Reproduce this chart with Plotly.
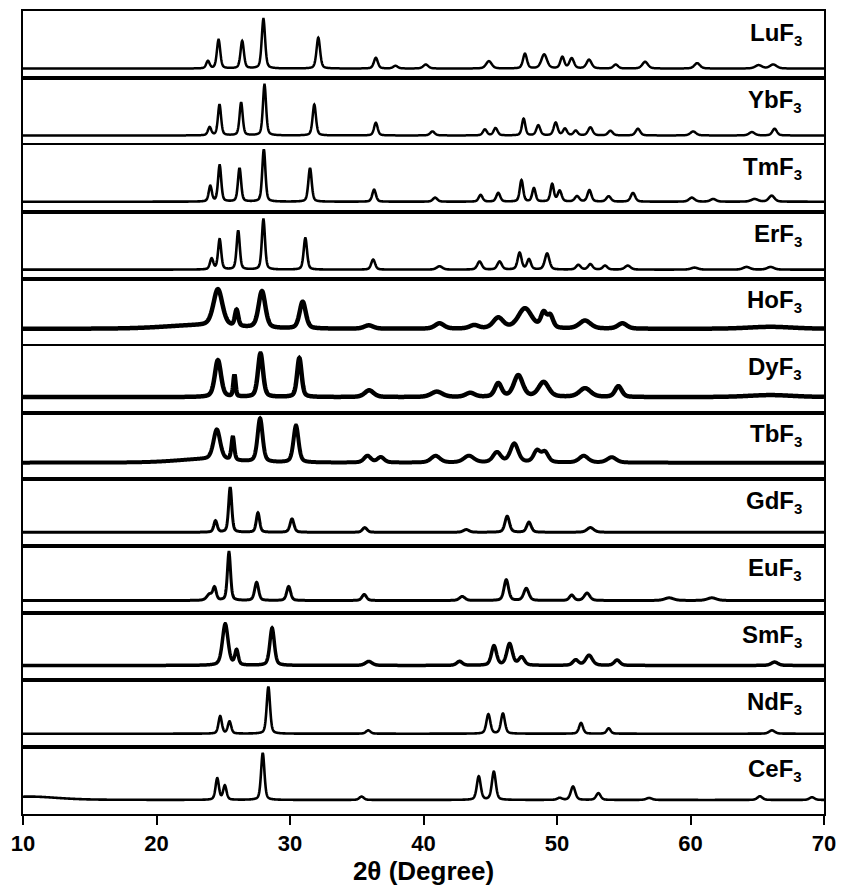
import numpy as np
import plotly.graph_objects as go
from plotly.subplots import make_subplots

# sample names, top to bottom
SAMPLES = ["Lu", "Yb", "Tm", "Er", "Ho", "Dy", "Tb", "Gd", "Eu", "Sm", "Nd", "Ce"]

# baseline level of each pattern (fraction of its panel height)
BASELINES = [0.14, 0.14, 0.15, 0.135, 0.25, 0.23, 0.25, 0.21, 0.19, 0.22, 0.20, 0.21]

# peaks: (2theta, height above baseline, fwhm)
LUF3_PEAKS = [(23.85, .11, .3), (24.65, .43, .3), (26.42, .41, .3), (28.01, .74, .3),
              (32.12, .46, .32), (36.43, .16, .35), (37.9, .04, .4), (40.17, .06, .45),
              (44.9, .11, .5), (47.6, .22, .35), (49.04, .21, .5), (50.4, .17, .35),
              (51.1, .15, .4), (52.4, .13, .45), (54.4, .06, .4), (56.6, .10, .5),
              (60.5, .08, .5), (65.1, .05, .6), (66.2, .06, .6)]
YBF3_PEAKS = [(23.98, .12, .3), (24.72, .46, .28), (26.34, .49, .28), (28.09, .76, .28),
              (31.82, .46, .3), (36.43, .19, .32), (40.67, .06, .4), (44.6, .09, .35),
              (45.4, .11, .35), (47.5, .25, .3), (48.6, .15, .35), (49.9, .19, .35),
              (50.6, .10, .35), (51.4, .07, .35), (52.5, .12, .4), (54.0, .07, .4),
              (56.06, .10, .4), (60.2, .06, .5), (64.6, .05, .5), (66.3, .10, .4)]
TMF3_PEAKS = [(24.03, .23, .28), (24.73, .54, .28), (26.22, .50, .28), (28.04, .78, .28),
              (31.5, .50, .3), (36.3, .18, .32), (40.87, .06, .4), (44.28, .10, .35),
              (45.6, .13, .35), (47.34, .32, .3), (48.27, .20, .3), (49.64, .26, .3),
              (50.2, .16, .35), (51.5, .08, .4), (52.43, .17, .35), (53.87, .08, .4),
              (55.69, .13, .4), (60.1, .06, .5), (61.7, .04, .5), (64.8, .04, .6),
              (66.08, .09, .5)]
ERF3_PEAKS = [(24.13, .16, .3), (24.73, .45, .28), (26.12, .58, .28), (28.01, .75, .28),
              (31.15, .47, .3), (36.23, .15, .35), (41.2, .05, .5), (44.2, .12, .4),
              (45.7, .12, .4), (47.2, .25, .35), (47.9, .15, .35), (49.26, .24, .4),
              (51.6, .07, .4), (52.5, .08, .4), (53.6, .06, .4), (55.3, .06, .5),
              (60.3, .03, .6), (64.2, .04, .6), (66.0, .04, .6)]
HOF3_PEAKS = [(23.0, .05, 6.0), (24.6, .55, .8), (26.0, .24, .3), (27.9, .55, .6),
              (30.95, .40, .55), (35.9, .05, .8), (41.2, .08, .8), (43.8, .05, .8),
              (45.6, .16, .9), (47.6, .30, 1.2), (49.0, .22, .5), (49.5, .18, .5),
              (52.1, .12, 1.0), (54.9, .08, .8), (66.0, .03, 4.0)]
DYF3_PEAKS = [(24.6, .55, .55), (25.84, .32, .2), (27.79, .65, .45), (30.7, .58, .4),
              (35.93, .10, .8), (41.0, .08, 1.0), (43.5, .06, .8), (45.6, .20, .6),
              (47.1, .32, .8), (49.0, .22, .9), (52.1, .13, 1.0), (54.6, .16, .6),
              (66.0, .03, 4.0)]
TBF3_PEAKS = [(23.5, .05, 5.0), (24.52, .45, .6), (25.72, .35, .25), (27.76, .65, .45),
              (30.45, .55, .45), (35.8, .10, .6), (36.8, .08, .6), (40.9, .10, .8),
              (43.4, .10, .9), (45.5, .15, .7), (46.8, .28, .7), (48.5, .17, .6),
              (49.1, .15, .6), (52.0, .10, .8), (54.1, .08, .8)]
GDF3_PEAKS = [(24.42, .17, .3), (25.52, .67, .28), (27.6, .29, .3), (30.15, .20, .35),
              (35.6, .07, .4), (43.2, .04, .5), (46.27, .24, .4), (47.9, .15, .4),
              (52.5, .07, .6)]
EUF3_PEAKS = [(23.98, .09, .5), (24.35, .18, .3), (25.43, .72, .28), (27.5, .27, .35),
              (29.9, .21, .35), (35.56, .09, .4), (42.9, .06, .5), (46.2, .31, .4),
              (47.7, .18, .45), (51.1, .08, .4), (52.25, .11, .5), (58.4, .04, .8),
              (61.6, .04, .8)]
SMF3_PEAKS = [(25.15, .62, .5), (26.0, .22, .3), (28.66, .56, .4), (35.9, .06, .6),
              (42.7, .06, .5), (45.28, .29, .45), (46.45, .32, .5), (47.35, .12, .5),
              (51.4, .08, .5), (52.4, .15, .6), (54.5, .08, .5), (66.3, .05, .6)]
NDF3_PEAKS = [(24.77, .26, .3), (25.47, .18, .3), (28.38, .70, .3), (35.86, .05, .4),
              (44.86, .29, .35), (45.95, .30, .35), (51.8, .16, .35), (53.87, .08, .35),
              (66.1, .05, .5)]
CEF3_PEAKS = [(10.5, .05, 5.0), (24.55, .32, .3), (25.12, .21, .3), (27.96, .70, .3),
              (35.36, .05, .4), (44.14, .35, .35), (45.27, .42, .35), (50.2, .03, .4),
              (51.2, .20, .4), (53.1, .10, .4), (56.9, .03, .5), (65.2, .055, .45),
              (69.1, .04, .45)]

PEAKS = [LUF3_PEAKS, YBF3_PEAKS, TMF3_PEAKS, ERF3_PEAKS, HOF3_PEAKS, DYF3_PEAKS,
         TBF3_PEAKS, GDF3_PEAKS, EUF3_PEAKS, SMF3_PEAKS, NDF3_PEAKS, CEF3_PEAKS]

X_TICKS = [10, 20, 30, 40, 50, 60, 70]

# thicker strokes where the measured pattern is noisier
LINE_W = [2.5, 2.5, 2.6, 2.6, 4.5, 4.5, 4, 3, 3, 3.5, 2.6, 2.6]

FONT = "Liberation Sans, Arial, sans-serif"


def pattern(x, peaks, base, eta=0.4):
    # pseudo-Voigt profile for each listed reflection
    y = np.full_like(x, base)
    for pos, h, w in peaks:
        d = (x - pos) / (w / 2)
        lor = 1 / (1 + d ** 2)
        gau = np.exp(-np.log(2) * d ** 2)
        y += h * (eta * lor + (1 - eta) * gau)
    return y


two_theta = np.arange(10, 70.001, 0.02)

n = len(SAMPLES)
fig = make_subplots(rows=n, cols=1, shared_xaxes=True, vertical_spacing=0)

for i, el in enumerate(SAMPLES):
    fig.add_trace(
        go.Scatter(x=two_theta, y=pattern(two_theta, PEAKS[i], BASELINES[i]),
                   mode='lines', line=dict(color='black', width=LINE_W[i], simplify=False),
                   showlegend=False, hoverinfo='skip'),
        row=i + 1, col=1
    )
    yref = 'y domain' if i == 0 else f'y{i + 1} domain'
    fig.add_annotation(
        text=f"<b>{el}F<sub><span style='font-size:15px'>3</span></sub></b>",
        xref='paper', x=0.9745, xanchor='right',
        yref=yref, y=0.66, yanchor='middle', showarrow=False,
        font=dict(family=FONT, size=24, color='black')
    )

fig.update_xaxes(range=[10, 70], showline=True, mirror=True, linecolor='black',
                 linewidth=2, showgrid=False, zeroline=False, ticks='')
fig.update_yaxes(range=[0, 1], showline=True, mirror=True, linecolor='black',
                 linewidth=2, showgrid=False, zeroline=False, ticks='',
                 showticklabels=False)
fig.update_xaxes(row=n, col=1, ticks='outside', ticklen=9, tickwidth=2,
                 tickcolor='black', tickvals=X_TICKS, ticktext=[f"<b>{t}</b>" for t in X_TICKS],
                 tickfont=dict(family=FONT, size=22, color='black'),
                 title=dict(text="<b>2θ (Degree)</b>", standoff=2,
                            font=dict(family=FONT, size=26, color='black')))

fig.update_layout(width=845, height=888, plot_bgcolor='white', paper_bgcolor='white',
                  margin=dict(l=23, r=19, t=9, b=74))

# page body margin would otherwise shift the figure by 8px
fig.write_html("out.html", config={'displayModeBar': False},
               post_script="document.body.style.margin='0';")
